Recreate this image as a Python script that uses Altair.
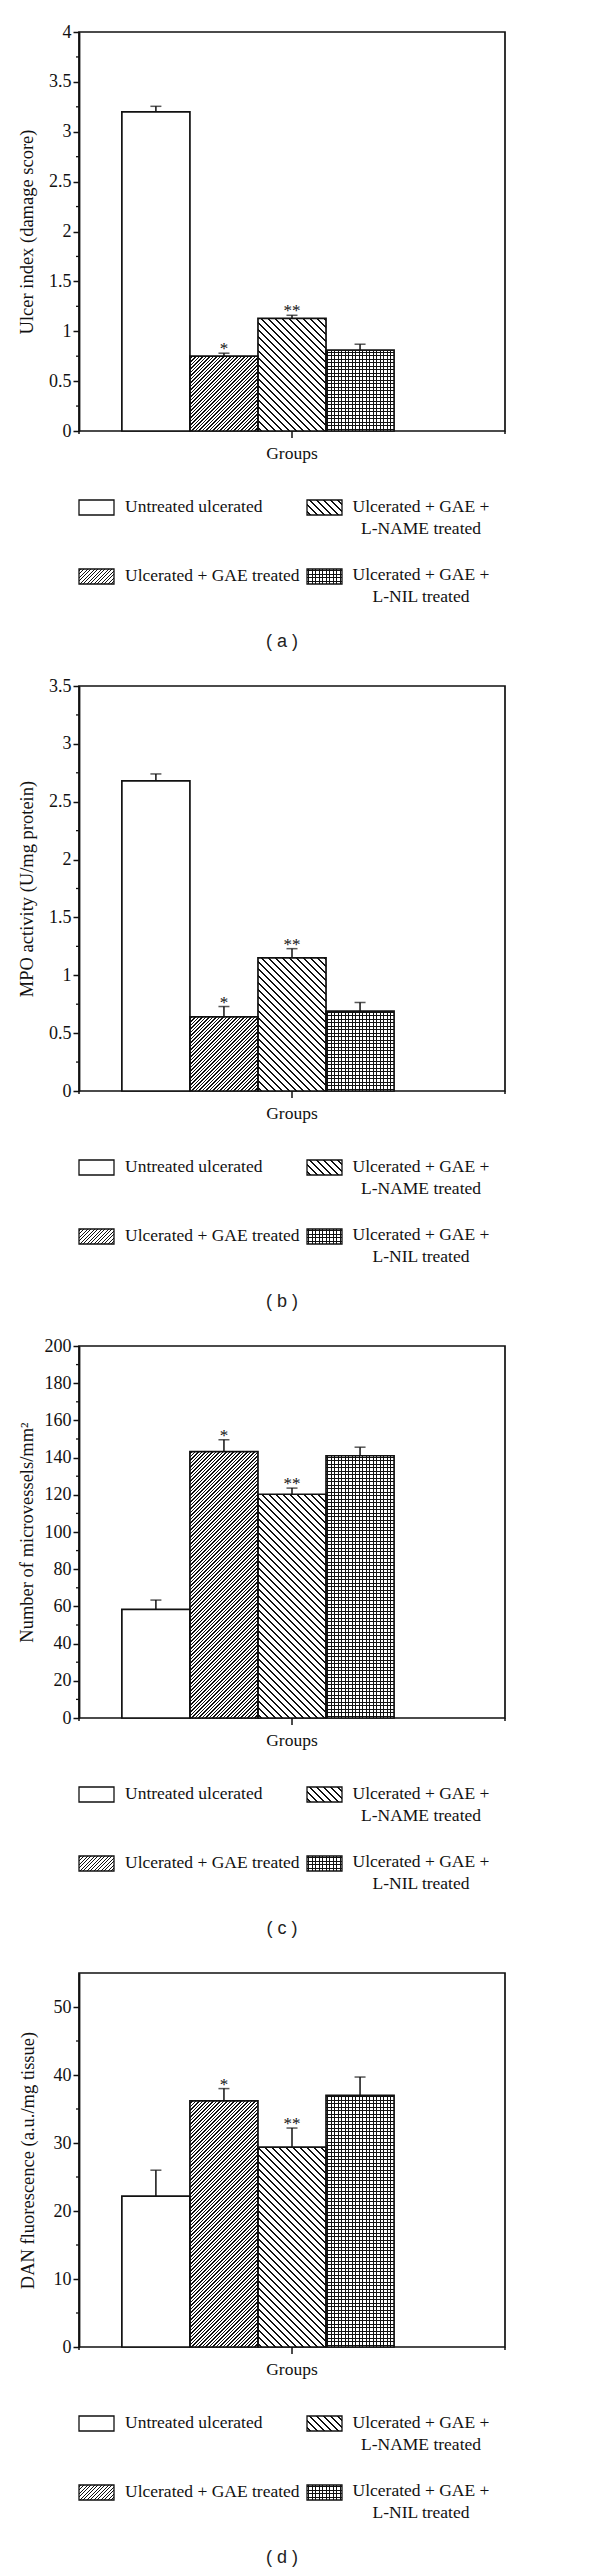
import math
import altair as alt
import pandas as pd

# ---------------- data ----------------
groups = [
    "Untreated ulcerated",
    "Ulcerated + GAE treated",
    "Ulcerated + GAE + L-NAME treated",
    "Ulcerated + GAE + L-NIL treated",
]
legend_labels = [
    "Untreated ulcerated",
    "Ulcerated + GAE treated",
    "Ulcerated + GAE +\nL-NAME treated",
    "Ulcerated + GAE +\nL-NIL treated",
]
star_labels = ["", "*", "**", ""]
panel_tags = ["( a )", "( b )", "( c )", "( d )"]
x_title = "Groups"
y_titles = [
    "Ulcer index (damage score)",
    "MPO activity (U/mg protein)",
    "Number of microvessels/mm²",
    "DAN fluorescence (a.u./mg tissue)",
]

a_values = [3.20, 0.75, 1.13, 0.81]
a_errors = [0.055, 0.03, 0.03, 0.06]
a_major = [0, 0.5, 1, 1.5, 2, 2.5, 3, 3.5, 4]
a_minor = [0.25, 0.75, 1.25, 1.75, 2.25, 2.75, 3.25, 3.75]

b_values = [2.68, 0.64, 1.15, 0.69]
b_errors = [0.06, 0.09, 0.08, 0.075]
b_major = [0, 0.5, 1, 1.5, 2, 2.5, 3, 3.5]
b_minor = [0.25, 0.75, 1.25, 1.75, 2.25, 2.75, 3.25]

c_values = [58.4, 143.2, 120.3, 141.0]
c_errors = [5.0, 6.4, 3.3, 4.6]
c_major = [0, 20, 40, 60, 80, 100, 120, 140, 160, 180, 200]
c_minor = [10, 30, 50, 70, 90, 110, 130, 150, 170, 190]

d_values = [22.2, 36.2, 29.4, 37.0]
d_errors = [3.8, 1.8, 2.8, 2.7]
d_major = [0, 10, 20, 30, 40, 50]
d_minor = [5, 15, 25, 35, 45]

# ---------------- style / layout ----------------
FG = "#111111"
BG = "#ffffff"
CLEAR = "rgba(255,255,255,0)"
SERIF = "Liberation Serif"
SANS = "Liberation Sans"
FS = 17.5
LFS = 18
TFS = 18.5
PW = 426
PAD_OUTER = 0.63
X_DOMAIN = groups + [" "]   # one empty slot on the right of the group
SEG = 49.0                  # hatch tiles are drawn in slices of this many pixels
EPS = 0.6

# hatch styles: (kind, period along the pattern axis, line width along that axis)
HATCH = {
    1: [("/", 3.5, 1.35)],
    2: [("\\", 7.0, 1.6)],
    3: [("h", 3.5, 1.1)],
}

panels = [
    dict(values=a_values, errors=a_errors, major=a_major, minor=a_minor, ymax=4, height=399, tp=12, fmt=".1~f"),
    dict(values=b_values, errors=b_errors, major=b_major, minor=b_minor, ymax=3.5, height=405, tp=12, fmt=".1~f"),
    dict(values=c_values, errors=c_errors, major=c_major, minor=c_minor, ymax=200, height=372, tp=8, fmt="d"),
    dict(values=d_values, errors=d_errors, major=d_major, minor=d_minor, ymax=55, height=374, tp=16, fmt="d"),
]


def stripe_gradient(kind, w, h, period, lw, phase=0.0, bg=BG):
    """Hard-edged stripes as a linear gradient over a w x h box."""
    if kind in ("/", "\\"):
        span = w + h
        s = w * span / (w * w + h * h)
        if kind == "/":
            x1, y1, x2, y2 = 0, 0, s, s * h / w
        else:
            x1, y1, x2, y2 = 0, 1, s, 1 - s * h / w
    elif kind == "h":
        span = h
        x1, y1, x2, y2 = 0, 0, 0, 1
    else:
        span = w
        x1, y1, x2, y2 = 0, 0, 1, 0
    stops = [{"offset": 0, "color": bg}]
    half = lw / 2
    m = math.floor((phase - period) / period) - 1
    while True:
        c = m * period + period / 2 - phase
        m += 1
        if c + half <= 0:
            continue
        if c - half >= span:
            break
        a = max(0.0, (c - half) / span)
        b = min(1.0, (c + half) / span)
        stops += [
            {"offset": round(a, 5), "color": bg},
            {"offset": round(a, 5), "color": FG},
            {"offset": round(b, 5), "color": FG},
            {"offset": round(b, 5), "color": bg},
        ]
    stops.append({"offset": 1, "color": bg})
    return {"gradient": "linear", "x1": x1, "y1": y1, "x2": x2, "y2": y2, "stops": stops}


def seg_phase(kind, r):
    # phase of a slice of height r whose bottom sits on a tile boundary
    if kind in ("/", "h"):
        return -r
    return 0.0


legend_pos = [  # (swatch x, row centre below the axis, column)
    (0, 76, "left"),
    (0, 145, "left"),
    (228, 76, "right"),
    (228, 144, "right"),
]


def make_panel(p, k):
    W, H, ymax = PW, p["height"], p["ymax"]
    df = pd.DataFrame({
        "idx": list(range(len(groups))),
        "group": groups,
        "value": p["values"],
        "err": p["errors"],
        "star": star_labels,
    })
    xs = alt.Scale(domain=X_DOMAIN, paddingInner=0, paddingOuter=PAD_OUTER)
    ys = alt.Scale(domain=[0, ymax], nice=False, zero=True)
    y_axis = alt.Axis(
        values=p["major"], format=p["fmt"], tickSize=6, tickWidth=1.5, tickColor=FG,
        domainColor=FG, domainWidth=1.8, labelPadding=2, grid=False,
        labelFontSize=LFS, title=y_titles[k], titleFontSize=TFS, titlePadding=p["tp"])
    bw = W / (len(X_DOMAIN) + 2 * PAD_OUTER)
    x_plain = alt.X("group:N", scale=xs, axis=None)
    px2d = ymax / H
    one = pd.DataFrame({"k": [0]})

    # slices of each bar (derived from the bar values) carrying the hatch
    rows = []
    for i, v in enumerate(p["values"]):
        hpx = v / ymax * H
        n = int(hpx // SEG)
        for s_ in range(n):
            rows.append(dict(idx=i, group=groups[i], part="full",
                             y0=s_ * SEG * px2d, y1=min(((s_ + 1) * SEG + EPS) * px2d, v), r=SEG + EPS))
        r = hpx - n * SEG
        if r > 0.05:
            rows.append(dict(idx=i, group=groups[i], part="top", y0=n * SEG * px2d, y1=v, r=r))
    sdf = pd.DataFrame(rows)

    layers = []
    if k == 0:
        # invisible anchor fixing the page offset of the whole figure
        layers.append(alt.Chart(one).mark_rect(opacity=0).encode(
            x=alt.value(-70), x2=alt.value(-69), y=alt.value(-23), y2=alt.value(-22)))
    for i in range(len(groups)):
        if i not in HATCH:
            continue
        for kind, per, lw in HATCH[i]:
            for part in ("full", "top"):
                sub = sdf[(sdf.idx == i) & (sdf.part == part)]
                if sub.empty:
                    continue
                hh = float(sub.r.iloc[0])
                ph = seg_phase(kind, hh) if part == "top" else seg_phase(kind, EPS)
                grad = stripe_gradient(kind, bw, hh, per, lw, phase=ph)
                layers.append(alt.Chart(sub).mark_bar(fill=grad, strokeWidth=0).encode(
                    x=x_plain, y=alt.Y("y0:Q", scale=ys, axis=y_axis), y2="y1:Q"))
        if i == 3:
            vgrad = stripe_gradient("v", bw, 10, 3.5, 1.1, bg=CLEAR)
            layers.append(alt.Chart(df).transform_filter(alt.datum.idx == i).mark_bar(
                fill=vgrad, strokeWidth=0).encode(x=x_plain, y=alt.Y("value:Q", scale=ys, axis=y_axis)))

    # bar outlines (white fill for the untreated group)
    layers.append(alt.Chart(df).transform_filter(alt.datum.idx == 0).mark_bar(
        fill="#ffffff", stroke=FG, strokeWidth=1.7).encode(
        x=x_plain, y=alt.Y("value:Q", scale=ys, axis=y_axis)))
    layers.append(alt.Chart(df).transform_filter(alt.datum.idx > 0).mark_bar(
        fill=CLEAR, stroke=FG, strokeWidth=1.7).encode(
        x=x_plain, y=alt.Y("value:Q", scale=ys, axis=y_axis)))

    eb = alt.Chart(df).transform_calculate(top="datum.value + datum.err")
    layers.append(eb.mark_rule(stroke=FG, strokeWidth=1.5).encode(
        x=x_plain, y=alt.Y("value:Q", scale=ys, axis=y_axis), y2="top:Q"))
    layers.append(eb.mark_tick(orient="horizontal", size=11, thickness=1.5, color=FG).encode(
        x=x_plain, y=alt.Y("top:Q", scale=ys, axis=y_axis)))
    layers.append(eb.mark_text(baseline="alphabetic", dy=1, font=SERIF, fontSize=17, color=FG).encode(
        x=x_plain, y=alt.Y("top:Q", scale=ys, axis=y_axis), text="star:N"))

    # minor ticks on the y axis
    layers.append(alt.Chart(pd.DataFrame({"m": p["minor"]})).mark_rule(stroke=FG, strokeWidth=1.3).encode(
        y=alt.Y("m:Q", scale=ys, axis=y_axis), x=alt.value(-3), x2=alt.value(0)))
    # ticks of the bottom axis
    for xv, ln in ((W / 2, 7), (0, 3), (W, 3)):
        layers.append(alt.Chart(one).mark_rule(stroke=FG, strokeWidth=1.5).encode(
            x=alt.value(xv), y=alt.value(H), y2=alt.value(H + ln)))
    # x-axis title
    layers.append(alt.Chart(pd.DataFrame({"t": [x_title]})).mark_text(
        align="center", baseline="middle", font=SERIF, fontSize=FS, color=FG).encode(
        x=alt.value(W / 2), y=alt.value(H + 23), text="t:N"))

    # legend
    ldf = pd.DataFrame({"idx": list(range(len(groups))), "label": legend_labels})
    sw, sh = 35, 15
    for i, (sx, ry, col) in enumerate(legend_pos):
        fills = ["#ffffff"] if i not in HATCH else [stripe_gradient(kd, sw, sh, per, lw) for kd, per, lw in HATCH[i]]
        if i == 3:
            fills.append(stripe_gradient("v", sw, sh, 3.5, 1.1, bg=CLEAR))
        sy = H + (76 if i in (0, 2) else 145) - 7
        for f in fills:
            layers.append(alt.Chart(ldf).transform_filter(alt.datum.idx == i).mark_rect(
                fill=f, strokeWidth=0).encode(
                x=alt.value(sx), x2=alt.value(sx + sw), y=alt.value(sy), y2=alt.value(sy + sh)))
        layers.append(alt.Chart(ldf).transform_filter(alt.datum.idx == i).mark_rect(
            fill=CLEAR, stroke=FG, strokeWidth=1.3).encode(
            x=alt.value(sx), x2=alt.value(sx + sw), y=alt.value(sy), y2=alt.value(sy + sh)))
        if col == "left":
            tx, al = sx + 46, "left"
        else:
            tx, al = 342, "center"
        layers.append(alt.Chart(ldf).transform_filter(alt.datum.idx == i).mark_text(
            align=al, baseline="middle", lineBreak="\n", lineHeight=22,
            font=SERIF, fontSize=FS, color=FG).encode(
            x=alt.value(tx), y=alt.value(H + ry), text="label:N"))

    # caption
    layers.append(alt.Chart(pd.DataFrame({"tag": [panel_tags[k]]})).mark_text(
        align="center", baseline="middle", font=SANS, fontSize=18, color="#222222").encode(
        x=alt.value(W / 2 - 10), y=alt.value(H + 211), text="tag:N"))

    return alt.layer(*layers).properties(width=W, height=H)


chart = alt.vconcat(*[make_panel(p, k) for k, p in enumerate(panels)], spacing=255, bounds="flush")
chart = chart.configure_view(stroke=FG, strokeWidth=1.7).configure_axis(
    labelFont=SERIF, labelFontSize=LFS, labelColor=FG,
    titleFont=SERIF, titleFontSize=TFS, titleFontWeight="normal", titleColor=FG,
).properties(padding={"left": 0, "top": 0, "right": 5, "bottom": 5}, background="white")

chart.save("out.html", embed_options={"renderer": "svg", "actions": False})
